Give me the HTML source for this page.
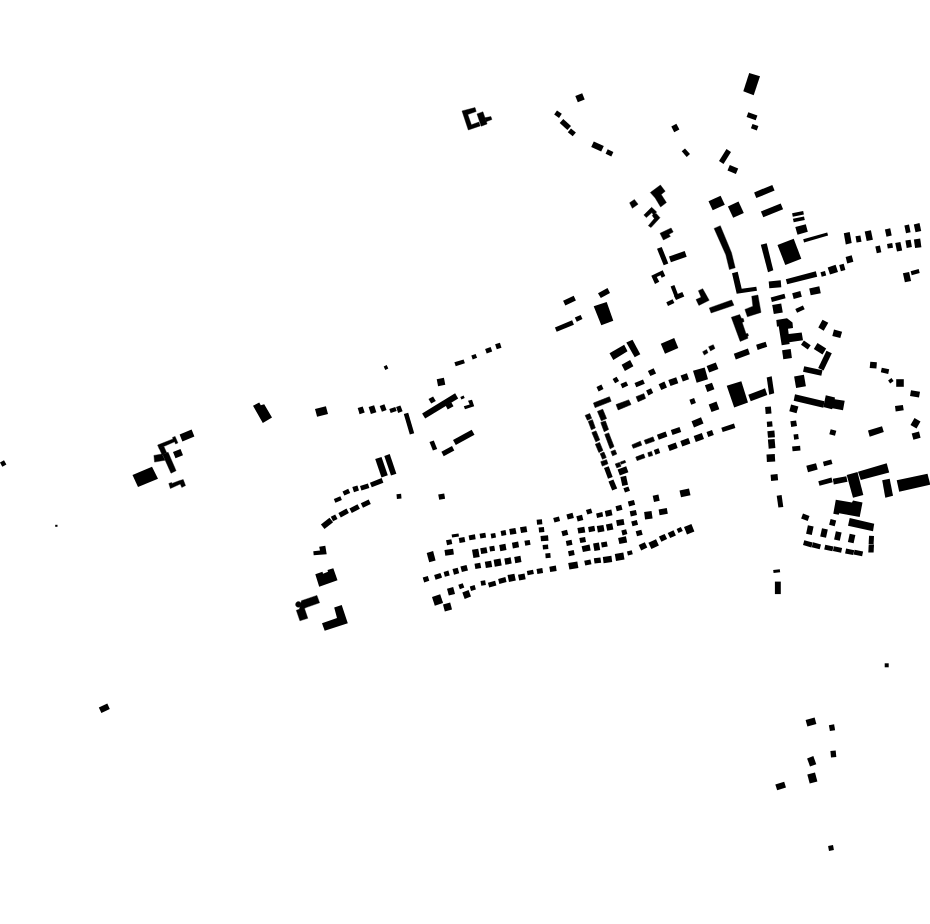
<!DOCTYPE html>
<html lang="de"><head><meta charset="utf-8"><title>Schwarzplan</title>
<style>
html,body{margin:0;padding:0;background:#fff;}
body{width:930px;height:924px;overflow:hidden;font-family:"Liberation Sans",sans-serif;}
svg{display:block;}
</style></head><body>
<svg width="930" height="924" viewBox="0 0 930 924" fill="#000">
<rect x="0" y="0" width="930" height="924" fill="#fff"/>
<g>
<g>
<polygon points="575.3,96.1 582.2,93.3 584.7,99.5 577.8,102.3"/>
<polygon points="557.0,110.4 561.8,113.8 559.0,117.9 554.2,114.5"/>
<polygon points="563.3,119.1 571.0,126.0 567.4,129.9 559.7,123.0"/>
<polygon points="571.0,128.4 575.9,132.5 572.7,136.3 567.8,132.2"/>
<polygon points="593.8,141.5 603.8,146.1 601.2,151.5 591.2,146.9"/>
<polygon points="607.7,149.2 613.4,151.9 611.3,156.4 605.6,153.8"/>
<polygon points="671.3,126.6 676.4,123.8 679.4,129.4 674.2,132.2"/>
<polygon points="685.0,148.4 690.0,154.1 686.7,157.0 681.7,151.2"/>
<polygon points="731.0,151.9 723.5,163.9 719.0,161.1 726.5,149.1"/>
<polygon points="729.8,165.0 738.2,168.6 735.9,174.0 727.5,170.4"/>
<polygon points="708.5,201.3 720.6,195.7 724.8,204.7 712.7,210.3"/>
<polygon points="749.2,73.0 760.0,76.3 753.7,95.3 743.3,91.3"/>
<polygon points="748.3,112.3 757.4,115.6 755.7,120.3 746.6,117.0"/>
<polygon points="752.5,123.9 758.4,126.1 756.8,130.4 750.9,128.3"/>
<polygon points="754.1,192.4 772.3,185.0 774.6,190.6 756.3,198.0"/>
<polygon points="727.9,206.5 738.5,201.5 743.8,212.9 733.2,217.8"/>
<polygon points="657.0,248.8 663.7,265.3 668.3,263.4 661.7,246.9"/>
<polygon points="669.0,256.5 684.7,251.1 686.7,256.8 670.9,262.2"/>
<polygon points="651.3,275.7 662.7,270.2 665.3,276.0 661.7,277.8 660.5,275.3 656.8,277.0 659.3,281.7 655.0,284.0"/>
<polygon points="670.6,286.4 675.3,298.4 679.0,296.9 674.4,284.9"/>
<polygon points="676.0,300.1 684.3,296.5 682.3,291.9 674.0,295.5"/>
<polygon points="666.3,302.3 672.6,299.3 674.4,303.1 668.0,306.0"/>
<polygon points="732.0,273.3 737.7,271.7 741.7,288.7 756.3,286.7 757.0,290.7 736.7,293.7"/>
<polygon points="598.0,293.3 607.5,288.0 610.0,293.0 600.8,298.0"/>
<polygon points="593.7,306.3 606.7,302.0 613.3,320.8 601.3,325.3"/>
<polygon points="760.9,211.4 780.7,203.4 783.1,209.3 763.3,217.3"/>
<polygon points="795.3,227.0 805.8,224.2 807.8,231.7 797.5,234.7"/>
<polygon points="804.1,242.4 828.1,235.6 827.2,232.4 803.2,239.2"/>
<polygon points="777.5,245.0 793.7,238.8 801.3,258.7 785.3,265.0"/>
<polygon points="760.8,244.7 766.7,243.3 773.3,270.3 768.0,272.2"/>
<polygon points="785.8,279.2 815.8,271.3 817.2,276.7 787.2,284.2"/>
<polygon points="768.7,281.4 780.7,280.3 781.3,287.3 769.3,288.3"/>
<polygon points="820.5,272.2 825.0,271.0 826.2,275.5 821.7,276.7"/>
<polygon points="827.7,267.4 835.6,264.8 838.0,271.9 830.0,274.5"/>
<polygon points="839.2,264.9 843.7,263.7 845.4,270.1 840.9,271.3"/>
<polygon points="845.6,256.9 851.7,255.3 853.4,261.7 847.3,263.4"/>
<polygon points="843.8,233.3 849.7,232.0 851.7,243.0 845.8,244.5"/>
<polygon points="855.5,236.3 860.4,235.4 861.5,241.7 856.6,242.6"/>
<polygon points="864.7,231.6 870.9,230.3 872.9,239.7 866.7,241.1"/>
<polygon points="884.9,229.4 890.2,228.3 891.7,235.6 886.5,236.7"/>
<polygon points="875.3,246.4 879.9,245.4 881.3,252.3 876.8,253.2"/>
<polygon points="887.0,244.0 892.2,243.1 893.0,247.7 887.8,248.6"/>
<polygon points="895.2,243.0 900.4,241.9 902.2,250.4 897.0,251.5"/>
<polygon points="771.9,301.9 785.6,298.3 784.4,293.7 770.7,297.4"/>
<polygon points="792.2,293.3 800.3,291.1 801.8,296.7 793.7,298.9"/>
<polygon points="809.2,288.5 819.3,286.3 820.8,293.2 810.7,295.3"/>
<polygon points="772.2,304.9 781.2,303.4 782.8,312.4 773.8,314.0"/>
<polygon points="795.3,309.0 802.9,305.5 804.7,309.3 797.1,312.8"/>
<polygon points="822.5,319.7 828.3,322.8 823.7,330.8 818.3,327.5"/>
<polygon points="834.0,329.5 842.1,331.7 840.3,338.1 832.3,336.0"/>
<polygon points="904.4,225.4 909.0,224.4 910.6,232.3 906.0,233.2"/>
<polygon points="913.8,224.4 919.5,223.1 921.2,231.0 915.5,232.2"/>
<polygon points="905.4,240.6 910.6,239.7 911.9,247.1 906.7,248.0"/>
<polygon points="913.9,239.5 920.2,238.6 921.4,247.2 915.1,248.1"/>
<polygon points="902.9,273.3 909.1,272.0 911.1,281.0 904.9,282.3"/>
<polygon points="910.6,271.2 918.7,269.1 919.7,273.1 911.7,275.3"/>
<polygon points="776.3,320.0 787.0,318.3 792.5,322.5 793.0,328.0 788.0,328.7 788.7,334.0 801.7,332.5 803.0,340.3 789.3,342.3 789.7,344.0 781.7,345.3 778.7,326.3 777.0,326.7"/>
<polygon points="756.1,344.8 765.6,341.8 767.2,346.8 757.7,349.9"/>
<polygon points="782.1,350.2 790.7,349.0 791.9,358.1 783.3,359.3"/>
<polygon points="803.9,340.6 810.7,345.3 807.8,349.4 801.0,344.7"/>
<polygon points="817.5,343.0 826.2,348.4 822.5,354.4 813.8,348.9"/>
<polygon points="826.5,350.7 818.2,367.9 823.5,370.4 831.8,353.3"/>
<polygon points="804.2,366.3 822.5,370.3 821.3,375.8 803.0,371.7"/>
<polygon points="794.1,376.5 803.9,374.7 805.9,386.2 796.1,387.9"/>
<polygon points="766.7,377.5 771.7,376.3 774.2,393.3 769.2,394.7"/>
<polygon points="825.8,395.3 835.0,397.5 834.7,399.2 844.7,400.8 843.0,410.3 832.5,408.3 832.0,409.2 823.3,407.0"/>
<polygon points="791.1,404.5 798.4,406.4 796.5,413.2 789.3,411.2"/>
<polygon points="765.1,407.1 770.9,406.6 771.5,413.6 765.7,414.1"/>
<polygon points="766.8,421.7 772.1,421.3 772.6,426.6 767.2,427.1"/>
<polygon points="767.4,431.2 774.4,430.5 774.9,437.2 768.0,437.8"/>
<polygon points="767.9,439.6 774.6,439.0 775.4,448.1 768.7,448.7"/>
<polygon points="766.5,454.5 774.8,454.0 775.2,461.5 766.9,462.0"/>
<polygon points="770.6,474.7 777.5,474.0 778.1,480.3 771.1,481.0"/>
<polygon points="790.4,421.2 796.1,420.4 797.0,426.1 791.2,427.0"/>
<polygon points="793.5,434.5 798.1,433.9 798.8,439.1 794.2,439.8"/>
<polygon points="792.1,446.5 800.1,445.8 800.5,450.5 792.6,451.2"/>
<polygon points="830.7,429.2 836.3,430.7 835.0,435.8 829.3,434.3"/>
<polygon points="868.0,430.5 882.0,426.3 883.8,432.0 869.7,436.7"/>
<polygon points="870.3,361.7 876.9,362.3 876.4,368.6 869.7,368.0"/>
<polygon points="881.8,367.8 889.2,369.3 888.2,373.9 880.8,372.3"/>
<polygon points="888.1,380.4 891.5,378.0 893.6,381.0 890.2,383.4"/>
<polygon points="896.2,379.2 903.8,379.2 903.8,386.8 896.2,386.8"/>
<polygon points="895.0,406.1 902.9,405.0 903.7,410.3 895.7,411.4"/>
<polygon points="806.3,465.7 816.0,463.2 817.7,469.6 808.0,472.2"/>
<polygon points="822.9,461.7 831.2,459.5 832.5,464.0 824.1,466.2"/>
<polygon points="911.0,390.2 920.0,391.8 919.0,397.5 910.0,395.9"/>
<polygon points="914.5,418.1 920.5,421.6 916.5,428.5 910.5,425.0"/>
<polygon points="911.7,433.6 919.0,431.6 920.6,437.8 913.4,439.7"/>
<polygon points="726.7,385.8 741.3,381.3 748.0,402.5 734.2,407.5"/>
<polygon points="609.5,353.3 624.2,344.7 627.5,351.3 613.3,360.0"/>
<polygon points="626.3,342.5 632.5,339.7 640.3,354.2 634.7,357.2"/>
<polygon points="660.8,343.7 674.2,338.0 678.3,348.0 665.0,353.8"/>
<polygon points="621.6,364.7 630.1,360.1 633.4,366.3 624.9,370.9"/>
<polygon points="647.9,370.9 653.6,368.2 656.1,373.5 650.4,376.1"/>
<polygon points="612.6,379.0 616.6,376.7 619.1,381.0 615.1,383.3"/>
<polygon points="620.5,384.1 626.2,381.4 628.2,385.6 622.4,388.3"/>
<polygon points="634.5,382.9 643.0,379.5 644.8,383.8 636.3,387.2"/>
<polygon points="596.5,386.9 601.4,384.6 603.5,389.1 598.6,391.4"/>
<polygon points="646.1,390.5 651.0,388.3 653.2,393.1 648.4,395.4"/>
<polygon points="658.6,384.3 664.4,381.6 667.0,387.4 661.3,390.0"/>
<polygon points="668.3,380.1 676.2,377.3 678.3,383.2 670.5,386.1"/>
<polygon points="680.6,375.5 686.9,373.2 689.0,379.2 682.8,381.4"/>
<polygon points="693.0,370.8 704.7,367.5 708.0,379.2 696.7,382.8"/>
<polygon points="706.6,366.1 715.8,362.4 718.4,368.9 709.2,372.6"/>
<polygon points="704.9,385.3 712.0,382.8 714.4,389.3 707.3,391.9"/>
<polygon points="689.4,399.7 694.1,398.0 695.9,403.0 691.2,404.7"/>
<polygon points="708.7,404.5 716.5,401.6 719.3,409.2 711.5,412.0"/>
<polygon points="691.5,421.2 701.0,417.3 703.5,423.5 694.0,427.4"/>
<polygon points="721.3,427.7 734.0,423.6 735.4,428.0 722.7,432.1"/>
<polygon points="706.5,432.0 712.0,430.0 713.8,435.0 708.3,437.0"/>
<polygon points="693.7,436.0 701.8,433.0 704.0,439.0 695.8,442.0"/>
<polygon points="680.3,441.1 688.4,438.1 690.4,443.6 682.3,446.6"/>
<polygon points="667.6,445.4 675.7,442.4 677.7,447.9 669.6,450.9"/>
<polygon points="670.8,429.9 679.5,427.0 681.2,432.1 672.5,435.0"/>
<polygon points="656.9,434.7 665.6,431.6 667.4,436.6 658.8,439.7"/>
<polygon points="653.8,450.0 658.5,448.3 660.2,453.0 655.5,454.7"/>
<polygon points="604.0,467.9 608.7,466.2 612.7,477.1 608.0,478.8"/>
<polygon points="617.6,469.4 626.2,466.3 628.4,472.2 619.8,475.4"/>
<polygon points="454.4,362.3 463.6,359.4 464.9,363.3 455.7,366.3"/>
<polygon points="471.3,355.5 475.6,353.9 477.1,357.8 472.7,359.4"/>
<polygon points="485.1,349.1 490.6,347.1 492.2,351.5 486.7,353.5"/>
<polygon points="495.1,344.2 499.9,342.7 501.5,347.8 496.8,349.3"/>
<polygon points="436.7,379.3 443.9,377.8 445.3,384.7 438.1,386.2"/>
<polygon points="445.5,405.3 451.3,402.2 453.5,406.3 447.7,409.5"/>
<polygon points="460.3,397.1 463.6,395.6 464.7,397.9 461.4,399.4"/>
<polygon points="468.0,400.8 472.0,399.7 474.2,406.3 465.0,409.2 463.8,406.3 469.7,404.5"/>
<polygon points="453.0,440.0 471.7,429.7 474.5,434.7 455.8,445.0"/>
<polygon points="441.4,451.8 452.0,446.1 454.3,450.6 443.7,456.2"/>
<polygon points="383.7,366.5 386.7,365.1 388.3,368.5 385.3,369.9"/>
<polygon points="315.0,409.1 325.9,406.2 328.0,413.9 317.1,416.8"/>
<polygon points="357.7,408.1 362.7,406.5 364.7,412.5 359.6,414.2"/>
<polygon points="368.6,407.0 374.1,405.2 376.4,412.3 370.9,414.1"/>
<polygon points="379.7,405.9 384.4,404.2 386.6,410.1 381.9,411.8"/>
<polygon points="389.3,409.1 395.3,407.0 396.7,410.9 390.7,413.0"/>
<polygon points="396.1,407.0 400.4,405.4 402.6,411.3 398.2,412.9"/>
<polygon points="403.8,414.0 409.8,434.5 414.2,433.2 408.2,412.7"/>
<polygon points="425.2,418.6 458.2,398.4 455.1,393.3 422.1,413.4"/>
<polygon points="428.5,399.0 433.1,396.4 435.8,401.0 431.2,403.6"/>
<polygon points="429.5,442.1 433.8,440.4 437.2,448.9 432.9,450.6"/>
<polygon points="375.2,459.1 381.5,477.4 387.8,475.2 381.5,456.9"/>
<polygon points="384.3,455.9 391.0,475.6 396.4,473.8 389.7,454.1"/>
<polygon points="253.0,405.8 259.2,402.5 260.8,405.3 264.2,404.2 272.0,417.5 262.8,423.0"/>
<polygon points="179.6,434.5 191.6,429.6 194.4,436.5 182.4,441.4"/>
<polygon points="173.0,452.1 180.5,449.1 183.0,455.3 175.5,458.3"/>
<polygon points="-0.0,462.6 4.0,460.3 6.4,464.4 2.3,466.7"/>
<polygon points="55.2,524.8 57.5,524.8 57.5,526.8 55.2,526.8"/>
<polygon points="132.5,475.0 152.0,466.7 158.0,478.7 138.0,487.0"/>
<polygon points="371.8,487.3 383.4,482.7 381.6,478.0 369.9,482.7"/>
<polygon points="360.0,486.1 367.9,483.5 369.4,487.9 361.4,490.5"/>
<polygon points="352.3,487.1 357.4,485.5 359.0,490.5 354.0,492.2"/>
<polygon points="342.5,491.4 348.2,488.7 350.2,492.9 344.4,495.6"/>
<polygon points="333.8,498.9 340.3,496.3 341.9,500.1 335.4,502.7"/>
<polygon points="360.8,503.2 368.7,499.6 370.8,504.1 363.0,507.8"/>
<polygon points="349.4,508.6 357.5,504.3 359.9,508.7 351.8,513.0"/>
<polygon points="338.4,512.9 346.5,508.6 348.9,513.1 340.8,517.4"/>
<polygon points="330.8,516.8 335.2,514.5 337.5,518.9 333.1,521.2"/>
<polygon points="320.9,524.4 329.5,517.7 333.1,522.3 324.5,529.0"/>
<polygon points="396.5,494.2 401.1,493.8 401.5,498.5 396.9,498.9"/>
<polygon points="319.2,546.7 325.3,545.8 326.7,554.2 313.7,555.3 313.3,551.3 320.0,550.5"/>
<polygon points="315.3,574.2 322.5,571.7 323.0,573.7 328.0,571.7 327.5,570.0 333.3,568.3 337.5,580.3 319.2,586.7"/>
<polygon points="426.7,552.9 433.1,551.1 435.6,560.5 429.2,562.2"/>
<polygon points="422.7,577.6 427.8,576.0 429.3,580.7 424.2,582.4"/>
<polygon points="434.1,575.0 440.4,572.9 441.9,577.7 435.6,579.7"/>
<polygon points="438.2,494.6 444.2,493.5 445.1,498.8 439.2,499.8"/>
<polygon points="451.6,534.6 458.5,533.4 459.0,536.4 452.1,537.6"/>
<polygon points="446.0,540.3 451.3,539.2 452.3,544.1 447.1,545.2"/>
<polygon points="458.7,537.9 464.4,536.9 465.3,542.1 459.6,543.1"/>
<polygon points="468.6,535.4 474.9,534.3 475.7,539.2 469.5,540.3"/>
<polygon points="479.5,533.7 485.3,532.7 486.1,537.6 480.4,538.6"/>
<polygon points="490.6,533.8 495.2,533.0 496.0,537.6 491.4,538.4"/>
<polygon points="500.6,531.0 505.5,530.1 506.4,535.0 501.5,535.9"/>
<polygon points="509.2,529.0 515.4,527.9 516.5,533.7 510.2,534.8"/>
<polygon points="520.0,527.3 526.3,526.2 527.3,532.0 521.1,533.1"/>
<polygon points="444.5,550.0 453.1,548.8 453.9,554.6 445.3,555.8"/>
<polygon points="472.0,549.8 478.2,548.7 479.7,556.9 473.4,558.0"/>
<polygon points="480.2,548.3 486.4,547.2 487.5,553.0 481.2,554.1"/>
<polygon points="489.3,546.6 494.2,545.8 495.1,550.7 490.1,551.6"/>
<polygon points="499.2,544.9 505.4,543.8 506.5,550.1 500.3,551.2"/>
<polygon points="511.9,542.7 518.1,541.6 519.1,547.3 512.9,548.4"/>
<polygon points="524.4,540.8 529.7,539.9 530.6,544.8 525.3,545.8"/>
<polygon points="443.6,571.9 448.4,570.6 449.7,575.4 444.9,576.7"/>
<polygon points="452.5,569.0 457.7,567.7 459.2,573.3 454.0,574.7"/>
<polygon points="460.4,566.5 466.5,564.9 468.0,570.5 461.9,572.1"/>
<polygon points="474.5,563.7 480.2,562.7 481.2,568.0 475.4,569.0"/>
<polygon points="484.8,561.8 491.1,560.7 492.2,566.9 485.9,568.0"/>
<polygon points="493.6,559.8 500.5,558.6 501.7,565.5 494.8,566.7"/>
<polygon points="504.3,558.4 510.6,557.3 511.7,563.6 505.4,564.7"/>
<polygon points="514.2,556.9 520.4,555.8 521.5,562.1 515.3,563.2"/>
<polygon points="438.4,574.5 440.8,573.9 441.6,577.1 439.2,577.8"/>
<polygon points="447.0,588.8 453.2,587.1 455.0,593.9 448.8,595.5"/>
<polygon points="458.3,584.8 462.7,583.2 464.3,587.6 459.9,589.2"/>
<polygon points="462.3,592.4 468.6,590.1 471.0,596.6 464.7,598.9"/>
<polygon points="469.8,586.4 474.6,585.1 475.9,589.6 471.0,590.9"/>
<polygon points="480.5,581.1 485.1,580.3 485.9,584.9 481.3,585.7"/>
<polygon points="487.9,582.7 495.1,580.8 496.4,585.6 489.2,587.6"/>
<polygon points="498.1,579.1 505.3,577.1 506.6,581.9 499.4,583.9"/>
<polygon points="507.5,575.1 514.4,573.7 515.8,580.5 509.0,582.0"/>
<polygon points="518.0,574.8 524.5,573.5 525.7,579.2 519.2,580.5"/>
<polygon points="526.8,571.1 533.0,569.8 533.9,573.9 527.7,575.2"/>
<polygon points="536.5,569.0 542.3,568.0 543.1,573.0 537.4,574.0"/>
<polygon points="549.3,566.8 555.8,565.6 556.7,570.9 550.2,572.0"/>
<polygon points="568.2,563.0 577.3,561.4 578.4,568.0 569.4,569.6"/>
<polygon points="584.2,560.7 590.4,559.4 591.5,564.3 585.3,565.6"/>
<polygon points="443.0,604.6 450.2,602.6 452.0,609.4 444.8,611.4"/>
<polygon points="437.4,598.2 440.6,597.0 442.6,602.5 439.4,603.6"/>
<polygon points="536.6,519.7 541.9,519.3 542.4,524.3 537.1,524.7"/>
<polygon points="538.6,527.4 543.9,526.9 544.4,531.9 539.1,532.4"/>
<polygon points="540.5,536.0 548.0,535.3 548.5,540.7 541.0,541.3"/>
<polygon points="542.6,544.9 548.0,544.4 548.4,549.1 543.0,549.6"/>
<polygon points="545.3,553.6 550.3,553.1 550.7,557.8 545.7,558.2"/>
<polygon points="553.2,518.0 558.9,516.5 560.1,521.0 554.5,522.5"/>
<polygon points="566.4,514.4 572.5,512.8 573.9,517.9 567.8,519.6"/>
<polygon points="576.3,516.3 582.0,514.8 583.3,520.0 577.7,521.5"/>
<polygon points="585.9,510.1 591.0,508.5 592.4,512.9 587.4,514.5"/>
<polygon points="561.3,531.2 567.0,529.7 568.3,534.8 562.7,536.3"/>
<polygon points="565.8,541.0 571.5,539.8 572.5,544.7 566.8,545.9"/>
<polygon points="568.0,551.3 573.7,550.1 574.7,555.0 569.0,556.2"/>
<polygon points="577.4,527.9 584.3,526.7 585.3,532.4 578.4,533.6"/>
<polygon points="588.1,526.9 594.3,525.8 595.2,531.1 589.0,532.2"/>
<polygon points="579.3,537.9 585.1,536.9 586.0,542.1 580.3,543.1"/>
<polygon points="581.6,546.3 589.5,544.6 590.7,550.4 582.9,552.0"/>
<polygon points="608.5,481.4 613.4,479.4 617.2,488.6 612.2,490.6"/>
<polygon points="620.4,477.0 626.1,475.7 628.0,484.7 622.3,485.9"/>
<polygon points="623.4,488.2 628.4,486.4 630.0,490.8 625.0,492.6"/>
<polygon points="679.5,490.4 689.0,488.4 690.5,495.3 681.0,497.3"/>
<polygon points="652.7,495.7 658.4,494.5 659.7,500.7 654.0,501.9"/>
<polygon points="627.8,501.6 633.9,499.9 635.2,504.8 629.1,506.4"/>
<polygon points="615.5,506.3 621.2,504.8 622.5,509.7 616.8,511.2"/>
<polygon points="604.8,511.0 611.3,509.6 612.5,515.3 606.0,516.7"/>
<polygon points="596.1,513.4 602.3,512.1 603.2,516.6 597.1,517.9"/>
<polygon points="629.7,511.2 635.9,509.9 637.0,515.1 630.8,516.4"/>
<polygon points="644.1,512.0 651.5,510.9 652.6,518.4 645.1,519.4"/>
<polygon points="658.6,509.5 666.8,508.1 667.8,513.8 659.6,515.3"/>
<polygon points="616.1,520.3 623.5,519.0 624.5,524.7 617.1,526.0"/>
<polygon points="605.9,524.6 612.1,523.2 613.4,529.4 607.2,530.8"/>
<polygon points="596.8,526.1 603.4,525.0 604.5,531.2 597.9,532.4"/>
<polygon points="631.2,521.5 636.8,520.0 638.1,524.8 632.5,526.3"/>
<polygon points="621.3,530.6 626.1,529.3 627.4,534.1 622.6,535.4"/>
<polygon points="635.7,531.2 641.3,529.7 642.7,534.8 637.0,536.3"/>
<polygon points="618.1,537.9 625.9,536.2 627.2,542.4 619.4,544.1"/>
<polygon points="601.0,542.4 606.7,541.4 607.7,546.6 601.9,547.6"/>
<polygon points="593.1,543.5 598.9,542.5 600.2,549.9 594.4,550.9"/>
<polygon points="593.8,558.3 600.4,557.4 601.2,562.7 594.6,563.6"/>
<polygon points="602.8,557.0 611.4,555.8 612.2,562.0 603.6,563.2"/>
<polygon points="614.8,554.0 623.3,552.5 624.5,559.4 616.0,560.9"/>
<polygon points="626.9,551.5 631.7,550.2 632.8,554.2 628.0,555.5"/>
<polygon points="638.7,545.1 644.8,542.3 647.3,547.6 641.2,550.4"/>
<polygon points="648.4,542.8 656.0,539.2 658.9,545.6 651.4,549.1"/>
<polygon points="658.9,536.5 664.6,533.9 667.1,539.1 661.4,541.8"/>
<polygon points="667.7,532.9 673.5,530.2 675.9,535.5 670.2,538.1"/>
<polygon points="676.6,528.9 680.8,526.9 682.8,531.1 678.5,533.1"/>
<polygon points="684.0,527.0 691.4,524.0 694.4,531.4 687.0,534.4"/>
<polygon points="858.0,471.7 886.7,463.3 889.2,472.5 860.8,480.0"/>
<polygon points="846.7,475.0 857.5,472.0 863.3,495.0 853.0,497.8"/>
<polygon points="832.8,478.7 846.3,476.3 847.5,481.7 833.8,484.5"/>
<polygon points="818.3,481.2 831.5,477.6 832.7,482.2 819.5,485.7"/>
<polygon points="882.2,480.3 889.7,478.7 893.0,495.8 885.3,497.8"/>
<polygon points="776.7,495.7 781.6,495.0 783.3,506.9 778.4,507.6"/>
<polygon points="835.8,499.7 852.0,502.5 853.0,500.5 862.5,502.5 859.7,517.0 839.2,513.3 838.7,514.7 833.3,513.7"/>
<polygon points="803.0,513.6 809.5,516.0 807.7,521.0 801.1,518.6"/>
<polygon points="830.6,519.1 836.2,520.6 834.7,526.2 829.1,524.7"/>
<polygon points="849.7,518.0 874.2,523.7 873.0,531.3 848.0,525.8"/>
<polygon points="807.9,525.3 813.6,526.5 811.8,535.0 806.1,533.8"/>
<polygon points="822.0,528.2 827.8,529.4 826.0,537.8 820.2,536.6"/>
<polygon points="835.9,531.2 841.6,532.4 839.8,540.8 834.1,539.6"/>
<polygon points="849.7,533.7 855.4,534.9 853.6,543.3 847.9,542.1"/>
<polygon points="869.1,535.7 874.0,536.0 873.6,544.3 868.6,544.0"/>
<polygon points="868.7,544.4 874.0,544.6 873.6,552.6 868.3,552.4"/>
<polygon points="804.3,540.3 812.7,542.5 811.4,547.4 803.0,545.1"/>
<polygon points="813.0,542.3 821.0,544.5 819.7,549.3 811.7,547.2"/>
<polygon points="825.3,544.7 833.4,546.4 832.4,551.3 824.2,549.6"/>
<polygon points="833.9,546.2 842.1,547.9 841.1,552.8 832.9,551.1"/>
<polygon points="846.1,548.5 854.3,550.3 853.2,555.1 845.1,553.4"/>
<polygon points="854.6,549.7 863.1,551.5 862.1,556.3 853.6,554.5"/>
<polygon points="773.2,570.1 779.8,569.2 780.2,572.2 773.6,573.1"/>
<polygon points="774.9,581.6 780.8,581.6 780.8,594.1 774.9,594.1"/>
<polygon points="896.7,480.3 927.5,473.7 930.3,484.7 899.2,491.7"/>
<polygon points="334.2,607.5 341.7,605.0 347.8,623.3 324.7,630.8 322.0,623.3 337.0,618.0"/>
<polygon points="432.0,597.0 440.2,594.3 443.0,603.0 434.8,605.7"/>
<polygon points="98.8,707.6 107.3,703.6 109.8,709.1 101.4,713.0"/>
<polygon points="884.7,663.3 888.7,663.3 888.7,667.3 884.7,667.3"/>
<polygon points="805.6,720.0 814.6,717.6 816.4,724.0 807.4,726.4"/>
<polygon points="828.9,725.2 834.1,724.2 835.1,730.2 829.9,731.1"/>
<polygon points="830.4,750.9 835.7,750.4 836.3,757.1 831.0,757.6"/>
<polygon points="807.1,758.4 813.3,756.1 816.3,764.3 810.0,766.5"/>
<polygon points="807.3,774.5 815.0,772.5 817.4,781.5 809.7,783.5"/>
<polygon points="775.3,784.6 784.2,781.7 786.0,787.4 777.2,790.3"/>
<polygon points="828.1,846.0 833.0,845.1 833.9,850.0 829.0,850.9"/>
<polygon points="563.1,300.7 573.7,295.8 575.9,300.6 565.3,305.5"/>
<polygon points="574.8,317.6 580.6,314.9 582.5,319.1 576.8,321.8"/>
<polygon points="556.7,331.8 573.9,324.7 572.1,320.3 554.9,327.5"/>
<polygon points="792.1,213.2 803.2,210.9 803.9,214.4 792.8,216.8"/>
<polygon points="792.9,218.7 804.0,216.4 804.8,219.9 793.7,222.3"/>
<polygon points="748.3,394.7 765.0,388.3 767.3,395.0 750.7,401.3"/>
<polygon points="795.0,394.3 824.5,401.3 823.3,407.7 793.7,400.7"/>
<polygon points="733.8,353.7 747.9,348.6 749.9,354.3 735.8,359.4"/>
</g>
<g stroke="#000" stroke-width="0.4" stroke-linejoin="miter">
<polygon points="157.6,445.1 173.0,438.9 172.5,437.4 175.1,436.4 177.9,442.9 175.6,444.0 174.6,441.8 159.1,448.5"/>
<polygon points="159.0,448.1 163.9,446.6 166.7,452.7 162.2,455.0"/>
<polygon points="162.6,454.4 168.1,452.3 176.1,470.7 171.0,473.2"/>
<polygon points="153.9,455.4 162.0,454.0 165.0,460.2 154.6,462.1"/>
<polygon points="168.8,483.5 171.5,482.5 172.0,483.4 179.0,480.8 183.2,479.5 185.5,485.6 181.8,487.4 180.3,484.0 170.4,488.5"/>
<polygon points="301.4,600.7 316.9,595.4 319.6,602.8 306.0,607.6 304.5,608.6 307.8,618.3 299.9,620.8 296.3,610.3 299.3,609.3 300.5,605.3"/>
<polygon points="301.3,604.5 301.1,605.5 300.4,606.5 299.5,607.1 298.4,607.3 297.3,607.1 296.4,606.5 295.8,605.5 295.6,604.5 295.8,603.4 296.4,602.4 297.3,601.8 298.4,601.6 299.5,601.8 300.4,602.4 301.1,603.4"/>
<polygon points="650.3,192.6 660.4,185.0 665.2,191.3 661.2,194.4 666.4,202.6 660.6,207.0 655.2,198.0"/>
<polygon points="629.6,202.8 634.4,199.5 638.1,204.2 632.3,208.3"/>
<polygon points="643.8,215.1 651.6,207.3 656.7,211.9 654.7,214.0 656.2,213.5 660.0,217.7 657.0,221.1 651.0,227.6 648.3,225.7 654.3,218.6 652.2,215.6 653.1,214.8 652.0,212.5 646.4,217.6"/>
<polygon points="660.0,233.3 671.1,228.0 673.2,232.0 669.0,234.3 670.4,236.4 663.4,240.0"/>
<polygon points="714.1,228.4 720.3,225.7 731.5,252.7 735.2,267.8 729.4,269.5 725.8,254.8"/>
<polygon points="462.0,110.9 475.0,107.6 476.2,111.5 467.8,114.5 471.4,124.8 478.9,122.0 480.2,125.9 468.3,130.0"/>
<polygon points="477.0,113.9 482.9,111.8 487.1,123.9 481.2,126.2"/>
<polygon points="484.8,117.8 490.9,116.6 491.9,119.5 486.1,121.7"/>
<polygon points="698.4,290.7 702.7,288.7 709.2,300.3 698.9,305.4 696.0,299.6 701.1,297.2"/>
<polygon points="709.3,307.9 731.6,300.0 733.9,305.3 711.1,313.0"/>
<polygon points="751.7,296.3 757.9,295.0 761.0,312.4 747.4,316.8 744.9,309.4 752.9,306.2"/>
<polygon points="731.3,317.3 739.7,314.6 741.3,318.2 743.3,318.6 744.1,321.5 742.2,322.4 746.0,333.7 747.9,333.5 748.5,335.8 747.5,336.4 747.9,338.3 740.2,341.4"/>
<polygon points="702.6,351.7 706.6,349.6 708.0,352.8 704.3,355.1"/>
<polygon points="708.6,346.7 713.3,344.7 715.0,348.4 710.5,350.9"/>
</g>
<g stroke="#000" stroke-width="0.6" stroke-linejoin="miter">
<polygon points="585.2,415.4 589.7,413.6 591.6,418.3 587.4,420.2"/>
<polygon points="588.3,421.4 592.4,419.7 595.3,427.9 591.4,429.8"/>
<polygon points="591.9,432.6 596.0,430.9 599.7,439.9 595.8,441.8"/>
<polygon points="595.4,444.2 599.6,442.4 602.9,450.4 598.9,452.5"/>
<polygon points="600.2,453.7 603.9,452.0 606.2,457.5 602.5,459.2"/>
<polygon points="600.8,461.7 606.5,459.7 607.9,463.8 602.3,466.1"/>
<polygon points="597.5,411.4 602.7,409.3 606.5,418.5 601.4,420.8"/>
<polygon points="600.8,422.5 605.4,421.0 608.5,429.4 604.2,431.7"/>
<polygon points="604.8,434.4 608.7,432.9 614.0,446.6 610.2,448.8"/>
<polygon points="610.9,451.6 615.1,449.9 616.7,454.1 612.6,455.8"/>
<polygon points="593.5,403.0 609.4,396.8 611.1,401.3 595.1,407.6"/>
<polygon points="616.1,404.6 628.7,399.9 631.0,404.6 618.2,409.9"/>
<polygon points="636.1,396.7 643.8,393.7 645.5,398.4 638.1,401.7"/>
<polygon points="631.9,444.9 640.3,441.3 641.7,445.2 633.3,448.3"/>
<polygon points="644.2,440.3 653.0,436.9 654.5,441.0 645.9,444.1"/>
<polygon points="635.8,457.1 643.6,454.1 645.0,457.7 637.1,460.6"/>
<polygon points="647.8,452.7 651.5,451.6 652.6,455.6 648.8,456.6"/>
<polygon points="615.3,463.9 619.5,462.5 621.0,466.3 616.8,467.8"/>
<polygon points="620.3,462.1 624.9,460.4 625.7,462.5 621.1,464.2"/>
</g>
</g>
</svg>
</body></html>
